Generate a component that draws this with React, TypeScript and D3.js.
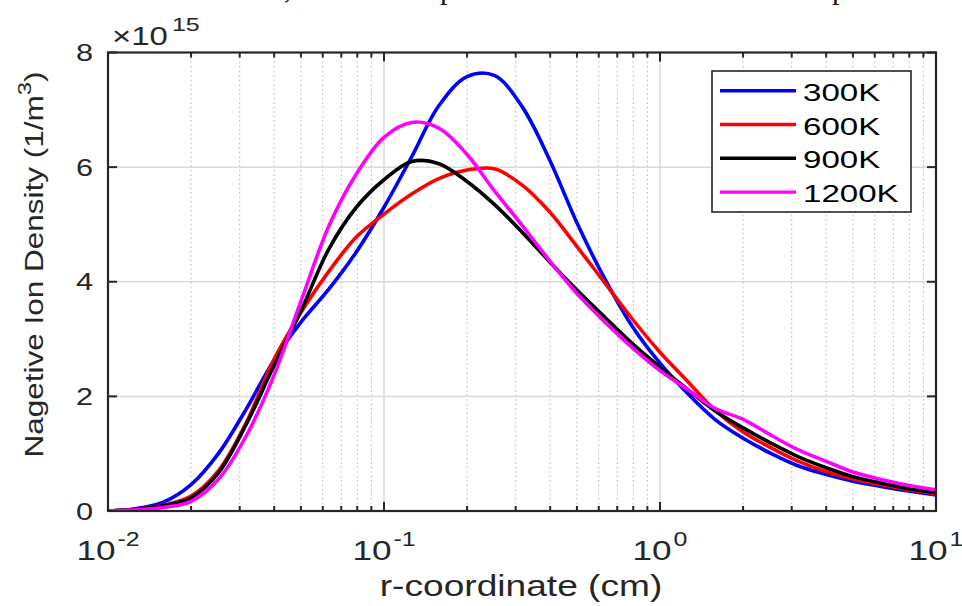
import * as d3 from "d3";

// r-coordinate (cm), sampled every 0.1 decade
const rValues = [0.01, 0.0126, 0.0158, 0.02, 0.0251, 0.0316, 0.0398, 0.0501, 0.0631, 0.0794,
  0.1, 0.126, 0.158, 0.2, 0.251, 0.316, 0.398, 0.501, 0.631, 0.794,
  1, 1.26, 1.58, 2, 2.51, 3.16, 3.98, 5.01, 6.31, 7.94, 10];

// negative ion density, x 1e15 (1/m^3)
const density300 = [0, 0.04, 0.15, 0.46, 1.0, 1.77, 2.62, 3.30, 3.87, 4.52, 5.30, 6.18, 7.07, 7.58, 7.60,
  7.06, 6.13, 5.02, 4.05, 3.22, 2.58, 2.05, 1.60, 1.27, 1.01, 0.79, 0.64, 0.52, 0.43, 0.35, 0.28];
const density600 = [0, 0.03, 0.10, 0.26, 0.70, 1.53, 2.63, 3.47, 4.18, 4.78, 5.18, 5.53, 5.80, 5.95, 5.97,
  5.69, 5.22, 4.61, 3.98, 3.35, 2.77, 2.26, 1.76, 1.38, 1.11, 0.87, 0.69, 0.56, 0.46, 0.37, 0.30];
const density900 = [0, 0.03, 0.09, 0.23, 0.66, 1.50, 2.52, 3.50, 4.57, 5.30, 5.78, 6.10, 6.06, 5.75, 5.35,
  4.87, 4.35, 3.85, 3.38, 2.92, 2.51, 2.12, 1.75, 1.45, 1.19, 0.95, 0.76, 0.60, 0.49, 0.39, 0.32];
const density1200 = [0, 0.02, 0.06, 0.17, 0.55, 1.30, 2.35, 3.67, 4.97, 5.88, 6.52, 6.78, 6.68, 6.22, 5.59,
  4.99, 4.37, 3.79, 3.30, 2.85, 2.45, 2.12, 1.79, 1.60, 1.33, 1.07, 0.87, 0.68, 0.55, 0.45, 0.37];

const seriesNames = ["300K", "600K", "900K", "1200K"];
const seriesColors = ["#0000ff", "#ff0000", "#000000", "#ff00ff"];
const seriesValues = [density300, density600, density900, density1200];

const xMajorTicks = [0.01, 0.1, 1, 10];
const xTickExponents = ["-2", "-1", "0", "1"];
const yTicks = [0, 2, 4, 6, 8];

const W = 962;
const H = 606;
const margin = { top: 52.5, right: 26, bottom: 95, left: 108 };
const font = "'Liberation Sans', Arial, Helvetica, sans-serif";
const axisColor = "#262626";

export default function App() {
  const innerW = W - margin.left - margin.right;
  const innerH = H - margin.top - margin.bottom;

  const x = d3.scaleLog().domain([0.01, 10]).range([0, innerW]);
  const y = d3.scaleLinear().domain([0, 8]).range([innerH, 0]);

  const minorTicks: number[] = [];
  [0.01, 0.1, 1].forEach((d) => {
    for (let k = 2; k <= 9; k++) minorTicks.push(k * d);
  });

  const line = d3
    .line<number>()
    .x((_, i) => x(rValues[i]))
    .y((v) => y(v))
    .curve(d3.curveCatmullRom.alpha(0.5));

  const legend = { x: 712, y: 71, w: 199, h: 141, row: 33.8 };

  return (
    <svg width={W} height={H} style={{ position: "absolute", left: 0, top: 0, background: "#fff" }}>
      {/* cut-off caption line above the figure */}
      <g fontFamily="'Liberation Serif', 'Times New Roman', serif" fontSize={30} fill="#111">
        <text x={284} y={-2}>,</text>
        <text x={440} y={-1}>p</text>
        <text x={832} y={-1}>p</text>
      </g>

      <defs>
        <clipPath id="plotClip">
          <rect x={0} y={-2} width={innerW} height={innerH + 2} />
        </clipPath>
      </defs>

      <g transform={`translate(${margin.left},${margin.top})`}>
        {/* grid */}
        {minorTicks.map((t) => (
          <line key={"mg" + t} x1={x(t)} x2={x(t)} y1={0} y2={innerH}
            stroke="#c4c4c4" strokeWidth={1} strokeDasharray="2,2.5" />
        ))}
        {xMajorTicks.slice(1, 3).map((t) => (
          <line key={"xg" + t} x1={x(t)} x2={x(t)} y1={0} y2={innerH} stroke="#dadada" strokeWidth={1.5} />
        ))}
        {yTicks.slice(1, 4).map((t) => (
          <line key={"yg" + t} x1={0} x2={innerW} y1={y(t)} y2={y(t)} stroke="#dadada" strokeWidth={1.5} />
        ))}

        {/* curves */}
        <g clipPath="url(#plotClip)">
          {seriesValues.map((vals, i) => (
            <path key={seriesNames[i]} d={line(vals) || ""} fill="none"
              stroke={seriesColors[i]} strokeWidth={3.6} strokeLinejoin="round" />
          ))}
        </g>

        {/* box and ticks */}
        <rect x={0} y={0} width={innerW} height={innerH} fill="none" stroke={axisColor} strokeWidth={2.2} />
        {minorTicks.map((t) => (
          <g key={"mt" + t} stroke={axisColor} strokeWidth={2}>
            <line x1={x(t)} x2={x(t)} y1={innerH} y2={innerH - 5} />
            <line x1={x(t)} x2={x(t)} y1={0} y2={5} />
          </g>
        ))}
        {xMajorTicks.map((t) => (
          <g key={"xt" + t} stroke={axisColor} strokeWidth={2}>
            <line x1={x(t)} x2={x(t)} y1={innerH} y2={innerH - 9} />
            <line x1={x(t)} x2={x(t)} y1={0} y2={9} />
          </g>
        ))}
        {yTicks.map((t) => (
          <g key={"yt" + t} stroke={axisColor} strokeWidth={2}>
            <line x1={0} x2={9} y1={y(t)} y2={y(t)} />
            <line x1={innerW} x2={innerW - 9} y1={y(t)} y2={y(t)} />
          </g>
        ))}

        {/* y tick labels */}
        {yTicks.map((t) => (
          <text key={"yl" + t} transform={`translate(-15,${y(t) + 8.5}) scale(1.28,1)`}
            textAnchor="end" fontFamily={font} fontSize={24} fill={axisColor}>
            {t}
          </text>
        ))}

        {/* x tick labels */}
        {xMajorTicks.map((t, i) => (
          <text key={"xl" + t} transform={`translate(${x(t)},${innerH + 49}) scale(1.28,1)`}
            textAnchor="middle" fontFamily={font} fontSize={27.5} fill={axisColor}>
            10
            <tspan dx={1.5} dy={-14} fontSize={19.5}>{xTickExponents[i]}</tspan>
          </text>
        ))}

        {/* exponent */}
        <text transform={`translate(4,-7.5) scale(1.32,1)`} fontFamily={font} fontSize={25} fill={axisColor}>
          ×10
          <tspan dx={3} dy={-14} fontSize={19}>15</tspan>
        </text>

        {/* legend */}
        <g>
          <rect x={legend.x - margin.left} y={legend.y - margin.top} width={legend.w} height={legend.h}
            fill="#fff" stroke={axisColor} strokeWidth={1.6} />
          {seriesNames.map((name, i) => {
            const ly = legend.y - margin.top + 19.7 + i * legend.row;
            const lx = legend.x - margin.left;
            return (
              <g key={"lg" + name}>
                <line x1={lx + 8} x2={lx + 84} y1={ly} y2={ly} stroke={seriesColors[i]} strokeWidth={3.4} />
                <text transform={`translate(${lx + 91},${ly + 10}) scale(1.35,1)`}
                  fontFamily={font} fontSize={24.5} fill="#000">
                  {name}
                </text>
              </g>
            );
          })}
        </g>
      </g>

      {/* axis titles */}
      <text transform={`translate(${margin.left + innerW / 2 - 1},${H - 10}) scale(1.28,1)`}
        textAnchor="middle" fontFamily={font} fontSize={29} fill={axisColor}>
        r-coordinate (cm)
      </text>
      <text transform={`translate(43,${264.5}) rotate(-90) scale(1.26,1)`}
        textAnchor="middle" fontFamily={font} fontSize={25} fill={axisColor}>
        Nagetive Ion Density (1/m
        <tspan dy={-12} fontSize={19}>3</tspan>
        <tspan dy={12}>)</tspan>
      </text>
    </svg>
  );
}
